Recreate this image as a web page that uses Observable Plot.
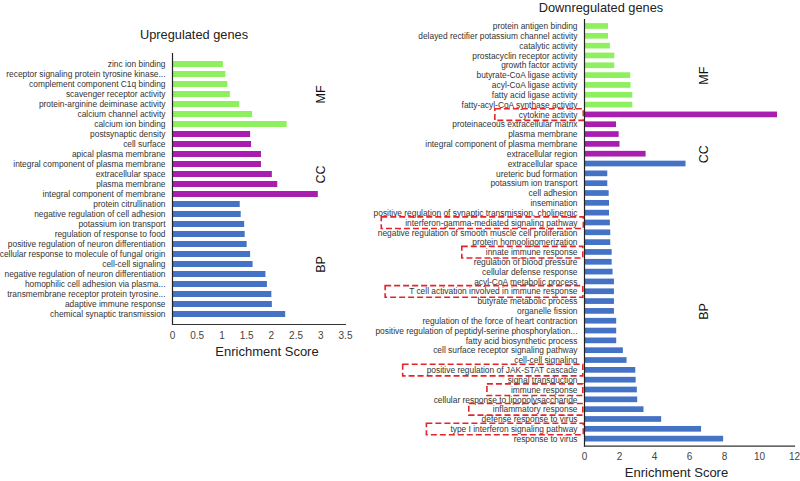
<!DOCTYPE html>
<html><head><meta charset="utf-8">
<script src="https://cdn.jsdelivr.net/npm/d3@7"></script>
<script src="https://cdn.jsdelivr.net/npm/@observablehq/plot@0.6"></script>
<style>
body{margin:0;background:#fff;font-family:"Liberation Sans",Arial,sans-serif;}
#wrap{position:relative;width:800px;height:481px;overflow:hidden;background:#fff;}
.title{position:absolute;text-align:center;font-size:12.8px;line-height:14.3px;color:#222;white-space:nowrap;}
#left{position:absolute;left:0;top:0}
#right{position:absolute;left:360px;top:0}
</style></head><body>
<div id="wrap">
<div id="left"></div><div id="right"></div>
<div class="title" style="left:0;width:388px;top:27.5px;">Upregulated genes</div>
<div class="title" style="left:401px;width:400px;top:1px;">Downregulated genes</div>
</div>
<script>
// ---------- Upregulated genes ----------
const upCategories = [
  "zinc ion binding",
  "receptor signaling protein tyrosine kinase...",
  "complement component C1q binding",
  "scavenger receptor activity",
  "protein-arginine deiminase activity",
  "calcium channel activity",
  "calcium ion binding",
  "postsynaptic density",
  "cell surface",
  "apical plasma membrane",
  "integral component of plasma membrane",
  "extracellular space",
  "plasma membrane",
  "integral component of membrane",
  "protein citrullination",
  "negative regulation of cell adhesion",
  "potassium ion transport",
  "regulation of response to food",
  "positive regulation of neuron differentiation",
  "cellular response to molecule of fungal origin",
  "cell-cell signaling",
  "negative regulation of neuron differentiation",
  "homophilic cell adhesion via plasma...",
  "transmembrane receptor protein tyrosine...",
  "adaptive immune response",
  "chemical synaptic transmission"
];
const upValues = [1.03,1.08,1.12,1.17,1.36,1.62,2.32,
  1.58,1.60,1.80,1.80,2.02,2.13,2.95,
  1.37,1.39,1.46,1.47,1.51,1.58,1.63,1.89,1.92,2.01,2.02,2.29];
const upGroups = ["MF","MF","MF","MF","MF","MF","MF",
  "CC","CC","CC","CC","CC","CC","CC",
  "BP","BP","BP","BP","BP","BP","BP","BP","BP","BP","BP","BP"];
const upTicks = [0,0.5,1,1.5,2,2.5,3,3.5];
const upGroupLabels = ["MF","CC","BP"];
const upGroupLabelAt = ["scavenger receptor activity","extracellular space","cell-cell signaling"];

// ---------- Downregulated genes ----------
const downCategories = [
  "protein antigen binding",
  "delayed rectifier potassium channel activity",
  "catalytic activity",
  "prostacyclin receptor activity",
  "growth factor activity",
  "butyrate-CoA ligase activity",
  "acyl-CoA ligase activity",
  "fatty acid ligase activity",
  "fatty-acyl-CoA synthase activity",
  "cytokine activity",
  "proteinaceous extracellular matrix",
  "plasma membrane",
  "integral component of plasma membrane",
  "extracellular region",
  "extracellular space",
  "ureteric bud formation",
  "potassium ion transport",
  "cell adhesion",
  "insemination",
  "positive regulation of synaptic transmission, cholinergic",
  "interferon-gamma-mediated signaling pathway",
  "negative regulation of smooth muscle cell proliferation",
  "protein homooligomerization",
  "innate immune response",
  "regulation of blood pressure",
  "cellular defense response",
  "acyl-CoA metabolic process",
  "T cell activation involved in immune response",
  "butyrate metabolic process",
  "organelle fission",
  "regulation of the force of heart contraction",
  "positive regulation of peptidyl-serine phosphorylation...",
  "fatty acid biosynthetic process",
  "cell surface receptor signaling pathway",
  "cell-cell signaling",
  "positive regulation of JAK-STAT cascade",
  "signal transduction",
  "immune response",
  "cellular response to lipopolysaccharide",
  "inflammatory response",
  "defense response to virus",
  "type I interferon signaling pathway",
  "response to virus"
];
const downValues = [1.37,1.37,1.48,1.73,1.73,2.64,2.66,2.76,2.76,
  11.03,1.83,1.98,2.03,3.52,
  5.80,1.33,1.33,1.41,1.43,1.43,1.48,1.50,1.50,1.58,1.58,1.63,1.71,1.71,1.71,1.71,1.84,
  1.84,1.84,2.22,2.43,2.93,2.95,3.02,3.04,3.40,4.41,6.69,7.95];
const downGroups = ["MF","MF","MF","MF","MF","MF","MF","MF","MF",
  "CC","CC","CC","CC","CC",
  "BP","BP","BP","BP","BP","BP","BP","BP","BP","BP","BP","BP","BP","BP","BP","BP","BP",
  "BP","BP","BP","BP","BP","BP","BP","BP","BP","BP","BP","BP"];
const downTicks = [0,2,4,6,8,10,12];
const downGroupLabels = ["MF","CC","BP"];
const downGroupLabelAt = ["butyrate-CoA ligase activity","extracellular region","organelle fission"];
const downHighlighted = [
  "cytokine activity",
  "interferon-gamma-mediated signaling pathway",
  "innate immune response",
  "T cell activation involved in immune response",
  "positive regulation of JAK-STAT cascade",
  "immune response",
  "inflammatory response",
  "type I interferon signaling pathway"
];

const groupColors = {domain:["MF","CC","BP"], range:["#8ef05e","#a81fb0","#4472c4"]};
const FONT = '"Liberation Sans", Arial, sans-serif';

function panel({cats, vals, groups, ticks, labels, labelAt, width, height, margins, domain, labelDx, titleDx, titleDy, padding}) {
  const data = cats.map((c,i) => ({cat:c, val:vals[i], grp:groups[i]}));
  const glab = labels.map((l,i) => ({label:l, at:labelAt[i]}));
  return Plot.plot({
    width, height,
    marginLeft: margins[0], marginRight: margins[1], marginTop: margins[2], marginBottom: margins[3],
    style:{fontFamily:FONT, background:"white", overflow:"visible"},
    x:{domain, ticks},
    y:{domain:cats, padding},
    color:groupColors,
    marks:[
      Plot.barX(data, {x:"val", y:"cat", fill:"grp"}),
      Plot.axisY({tickSize:0, tickPadding:7, fontSize:8.4, fill:"#333", label:null}),
      Plot.axisX({ticks, tickSize:0, tickPadding:7, fontSize:10, fill:"#444", label:null, tickFormat:d=>String(d)}),
      Plot.frame({anchor:"left", stroke:"#222", strokeWidth:1.2}),
      Plot.frame({anchor:"bottom", stroke:"#333", strokeWidth:1.2}),
      Plot.text(glab, {y:"at", text:"label", frameAnchor:"right", textAnchor:"middle", lineAnchor:"middle", dx:labelDx, rotate:-90, fontSize:12.5, fill:"#111"}),
      Plot.text(["Enrichment Score"], {text:d=>d, frameAnchor:"bottom", textAnchor:"middle", lineAnchor:"middle", dx:titleDx, dy:titleDy, fontSize:13, fill:"#222"})
    ]
  });
}

const leftPlot = panel({cats:upCategories, vals:upValues, groups:upGroups, ticks:upTicks,
  labels:upGroupLabels, labelAt:upGroupLabelAt, width:360, height:365,
  margins:[172,15,53,41], domain:[0,3.5], labelDx:-25, titleDx:8, titleDy:27, padding:0.42});
document.getElementById("left").appendChild(leftPlot);

const rightPlot = panel({cats:downCategories, vals:downValues, groups:downGroups, ticks:downTicks,
  labels:downGroupLabels, labelAt:downGroupLabelAt, width:440, height:481,
  margins:[224,6,19,35.4], domain:[0,12], labelDx:-91, titleDx:-13, titleDy:26.5, padding:0.42});
document.getElementById("right").appendChild(rightPlot);

// red dashed boxes around highlighted term labels
(function(){
  const svg = rightPlot.tagName.toLowerCase() === "svg" ? rightPlot : rightPlot.querySelector("svg");
  const sRect = svg.getBoundingClientRect();
  const texts = svg.querySelectorAll('g[aria-label="y-axis tick label"] text');
  const ns = "http://www.w3.org/2000/svg";
  texts.forEach(t => {
    const s = t.textContent;
    if (!downHighlighted.includes(s)) return;
    const r = t.getBoundingClientRect();
    const cy = (r.top + r.bottom) / 2 - sRect.top;
    const x0 = r.left - sRect.left - 24;
    const x1 = r.right - sRect.left + 5;
    const rect = document.createElementNS(ns, "rect");
    rect.setAttribute("x", x0);
    rect.setAttribute("y", cy - 5.8);
    rect.setAttribute("width", x1 - x0);
    rect.setAttribute("height", 11.6);
    rect.setAttribute("fill", "none");
    rect.setAttribute("stroke", "#e3242b");
    rect.setAttribute("stroke-width", 1.6);
    rect.setAttribute("stroke-dasharray", "6,3");
    svg.appendChild(rect);
  });
})();
</script>
</body></html>
